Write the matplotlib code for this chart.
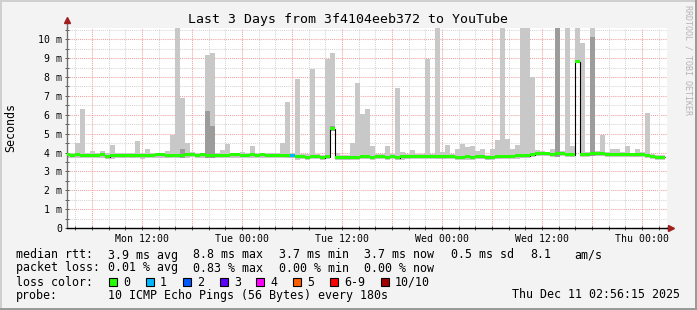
import numpy as np
import matplotlib
matplotlib.use('Agg')
from matplotlib import pyplot as plt
from matplotlib.patches import Rectangle
from matplotlib.ticker import FixedLocator

W, H = 697, 310

# hours since Mon 03:00, one column every 36 min
step_h = 0.6
t_first = -0.24

median_ms = [3.88, 3.85, 3.87, 3.85, 3.86, 3.86, 3.86, 3.87, 3.78, 3.83,
             3.85, 3.84, 3.86, 3.84, 3.86, 3.83, 3.85, 3.86, 3.87, 3.88,
             3.84, 3.85, 3.86, 3.85, 3.87, 3.90, 3.86, 3.88, 3.85, 3.84,
             3.85, 3.86, 3.86, 3.87, 3.87, 3.85, 3.86, 3.88, 3.86, 3.87,
             3.86, 3.85, 3.86, 3.86, 3.84, 3.84, 3.77, 3.80, 3.76, 3.80,
             3.80, 3.72, 3.78, 5.25, 3.72, 3.72, 3.73, 3.75, 3.76, 3.80,
             3.78, 3.76, 3.78, 3.80, 3.74, 3.80, 3.73, 3.77, 3.78, 3.79,
             3.80, 3.80, 3.80, 3.79, 3.78, 3.78, 3.80, 3.79, 3.74, 3.76,
             3.77, 3.76, 3.78, 3.78, 3.72, 3.76, 3.78, 3.79, 3.80, 3.80,
             3.82, 3.83, 3.84, 3.88, 3.94, 3.95, 3.94, 3.92, 3.93, 3.95,
             3.90, 3.88, 8.80, 3.92, 3.92, 3.94, 3.94, 3.93, 3.92, 3.90,
             3.90, 3.92, 3.90, 3.88, 3.88, 3.90, 3.86, 3.80, 3.76, 3.75]

smoke_top = [4.00, 3.98, 4.50, 6.30, 3.98, 4.08, 3.98, 4.10, 3.95, 4.40,
             3.98, 3.98, 3.98, 3.97, 4.60, 3.97, 4.18, 3.98, 4.00, 4.00,
             4.10, 4.93, 10.6, 6.90, 4.50, 4.02, 3.98, 4.00, 9.17, 9.25,
             3.98, 4.13, 4.45, 3.99, 3.99, 4.05, 3.98, 4.35, 3.98, 3.99,
             3.98, 3.97, 3.98, 4.50, 6.70, 3.96, 7.90, 3.93, 3.90, 8.43,
             3.93, 3.86, 8.96, 9.30, 4.00, 3.85, 3.86, 4.52, 7.70, 6.03,
             6.30, 4.35, 3.90, 3.92, 4.35, 3.93, 7.44, 4.04, 3.90, 4.13,
             3.93, 3.93, 8.96, 3.92, 10.6, 4.04, 4.40, 3.92, 4.20, 4.45,
             4.30, 4.35, 4.10, 4.20, 3.86, 4.19, 4.66, 10.6, 4.70, 4.20,
             4.40, 10.6, 10.6, 8.00, 4.13, 4.08, 4.05, 4.20, 10.6, 4.08,
             10.6, 4.35, 10.6, 9.80, 4.05, 10.6, 4.06, 4.93, 4.05, 4.20,
             4.20, 4.05, 4.35, 4.00, 4.20, 4.02, 6.10, 3.92, 3.88, 3.87]

smoke_bottom = [3.72, 3.70, 3.72, 3.70, 3.72, 3.70, 3.72, 3.73, 3.64, 3.68,
                3.70, 3.70, 3.72, 3.70, 3.72, 3.68, 3.70, 3.72, 3.72, 3.73,
                3.70, 3.70, 3.72, 3.70, 3.72, 3.76, 3.70, 3.73, 3.70, 3.70,
                3.70, 3.72, 3.72, 3.72, 3.72, 3.70, 3.72, 3.73, 3.70, 3.72,
                3.72, 3.70, 3.72, 3.70, 3.70, 3.70, 3.62, 3.66, 3.62, 3.66,
                3.66, 3.58, 3.64, 5.15, 3.60, 3.60, 3.60, 3.62, 3.62, 3.66,
                3.64, 3.62, 3.64, 3.66, 3.60, 3.66, 3.60, 3.63, 3.64, 3.65,
                3.66, 3.66, 3.66, 3.65, 3.64, 3.64, 3.66, 3.65, 3.60, 3.62,
                3.63, 3.62, 3.64, 3.64, 3.58, 3.62, 3.64, 3.65, 3.66, 3.66,
                3.68, 3.69, 3.70, 3.74, 3.80, 3.80, 3.80, 3.78, 3.78, 3.80,
                3.76, 3.74, 8.72, 3.78, 3.78, 3.80, 3.80, 3.79, 3.78, 3.76,
                3.76, 3.78, 3.76, 3.74, 3.74, 3.76, 3.72, 3.66, 3.62, 3.60]

dark_cols = [23, 28, 29, 53, 98, 105]
dark_tops = [4.20, 6.20, 5.40, 5.40, 10.6, 10.14]

# loss count per column (only one column lost a ping)
loss_cols = [45]
loss_vals = [1]

loss_colors = ['#26ff00', '#00b8ff', '#0059ff', '#5e00ff', '#ff00ff',
               '#ff5e00', '#ff0000', '#a10000']
loss_labels = ['0', '1', '2', '3', '4', '5', '6-9', '10/10']

tick_hours = [9, 21, 33, 45, 57, 69]
tick_labels = ['Mon 12:00', 'Tue 00:00', 'Tue 12:00', 'Wed 00:00', 'Wed 12:00', 'Thu 00:00']

mono = 'DejaVu Sans Mono'


def fx(px):
    return px / W


def fy(py):
    return 1 - py / H


fig = plt.figure(figsize=(W / 100, H / 100), dpi=100)
fig.patch.set_facecolor('#f3f3f3')

# 3d-ish frame
fig.patches.append(Rectangle((0, fy(2)), 1, 2 / H, transform=fig.transFigure, color='#cfcfcf', lw=0))
fig.patches.append(Rectangle((0, 0), 2 / W, 1, transform=fig.transFigure, color='#cfcfcf', lw=0))
fig.patches.append(Rectangle((fx(695), 0), 2 / W, 1, transform=fig.transFigure, color='#9a9a9a', lw=0))
fig.patches.append(Rectangle((0, 0), 1, 2 / H, transform=fig.transFigure, color='#9a9a9a', lw=0))

ax = fig.add_axes([fx(67), fy(228), 600 / W, 200 / H])
ax.set_facecolor('white')

n = len(median_ms)
left = t_first + step_h * np.arange(n)
med = np.array(median_ms)
lo = np.array(smoke_bottom)
hi = np.array(smoke_top)

ax.bar(left, hi - lo, bottom=lo, width=step_h, align='edge', color='#c8c8c8', lw=0, zorder=2)
dl = left[dark_cols]
dlo = lo[dark_cols]
ax.bar(dl, np.array(dark_tops) - dlo, bottom=dlo, width=step_h, align='edge', color='#9c9c9c', lw=0, zorder=3)

edges = np.append(left, left[-1] + step_h)
ax.stairs(med, edges, baseline=None, color='black', lw=0.8, zorder=4)

cols = [loss_colors[0]] * n
for c, v in zip(loss_cols, loss_vals):
    cols[c] = loss_colors[v]
ax.bar(left, 0.16, bottom=med - 0.08, width=step_h, align='edge', color=cols, lw=0, zorder=5)

ax.set_xlim(0, 72)
ax.set_ylim(0, 10.6)

ax.xaxis.set_major_locator(FixedLocator(tick_hours))
ax.xaxis.set_minor_locator(FixedLocator(np.arange(1, 72, 2)))
ax.set_xticklabels(tick_labels, fontfamily=mono, fontsize=7.1)
ax.yaxis.set_major_locator(FixedLocator(np.arange(0, 11)))
ax.yaxis.set_minor_locator(FixedLocator(np.arange(0.5, 10.6, 1)))
ax.set_yticklabels(['0'] + ['%d m' % v for v in range(1, 11)], fontfamily=mono, fontsize=7.1)

ax.tick_params(which='both', direction='inout', length=3, width=0.7, color='#555555', pad=2)
ax.tick_params(axis='x', pad=3)

for v in np.arange(0.5, 10.6, 0.5):
    c = '#f0a0a0' if v % 1 == 0 else '#d6d6d6'
    ax.axhline(v, color=c, lw=0.75, ls=(0, (1, 1)), zorder=1)
for v in np.arange(1, 72, 2):
    c = '#f0a0a0' if v % 6 == 3 else '#d6d6d6'
    ax.axvline(v, color=c, lw=0.75, ls=(0, (1, 1)), zorder=1)

for s in ['top', 'right']:
    ax.spines[s].set_visible(False)
ax.spines['left'].set_color('#707070')
ax.spines['bottom'].set_color('black')
ax.spines['left'].set_linewidth(1)
ax.spines['bottom'].set_linewidth(1)

# axis arrows
ax.plot([0, 0], [10.6, 10.95], color='#707070', lw=1, clip_on=False, zorder=6)
ax.plot([0], [11.05], marker='^', ms=5, color='#a02020', clip_on=False, zorder=6)
ax.plot([72, 72.3], [0, 0], color='black', lw=1, clip_on=False, zorder=6)
ax.plot([72.5], [0], marker='>', ms=5, color='#a02020', clip_on=False, zorder=6)

fig.text(fx(348), fy(19), 'Last 3 Days from 3f4104eeb372 to YouTube',
         ha='center', va='center', fontsize=9.5, family=mono)
fig.text(fx(11), fy(128), 'Seconds', rotation=90, ha='center', va='center', fontsize=8.4, family=mono)
fig.text(fx(688), fy(60), 'RRDTOOL / TOBI OETIKER', rotation=270, ha='center', va='center',
         fontsize=6, family=mono, color='#b4b4b4')

leg = dict(fontsize=8.4, family=mono, va='center')
fig.text(fx(16), fy(255), 'median rtt:', **leg)
for x, s in zip([108, 193, 279, 364, 451, 530, 574],
                ['3.9 ms avg', '8.8 ms max', '3.7 ms min', '3.7 ms now', '0.5 ms sd', '8.1', 'am/s']):
    fig.text(fx(x), fy(255), s, **leg)
fig.text(fx(16), fy(268), 'packet loss:', **leg)
for x, s in zip([108, 193, 279, 364], ['0.01 % avg', '0.83 % max', '0.00 % min', '0.00 % now']):
    fig.text(fx(x), fy(268), s, **leg)
fig.text(fx(16), fy(282), 'loss color:', **leg)
box_x = [109, 146, 183, 220, 256, 293, 330, 381]
for x, c, s in zip(box_x, loss_colors, loss_labels):
    fig.patches.append(Rectangle((fx(x), fy(286)), 8 / W, 8 / H, transform=fig.transFigure,
                                 facecolor=c, edgecolor='black', lw=0.8))
    fig.text(fx(x + 14), fy(282), s, **leg)
fig.text(fx(16), fy(295), 'probe:', **leg)
fig.text(fx(108), fy(295), '10 ICMP Echo Pings (56 Bytes) every 180s', **leg)
fig.text(fx(680), fy(295), 'Thu Dec 11 02:56:15 2025', ha='right', fontsize=8.4, family=mono, va='center')

fig.savefig('out.png', dpi=100, facecolor=fig.get_facecolor())
